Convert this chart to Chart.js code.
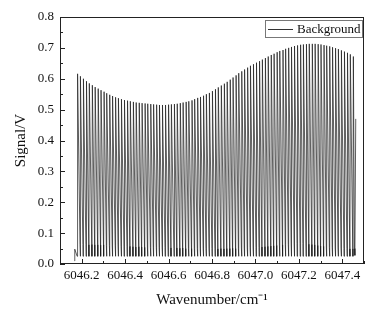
<!DOCTYPE html>
<html>
<head>
<meta charset="utf-8">
<script src="https://cdn.jsdelivr.net/npm/chart.js@4.4.1/dist/chart.umd.min.js"></script>
<style>
  html, body { margin: 0; padding: 0; background: #fff; }
  canvas { display: block; }
</style>
</head>
<body>
<canvas id="chart" width="385" height="312"></canvas>
<script>
// peak positions (cm^-1) and peak heights (V)
var peakWn = [
    6046.181, 6046.195, 6046.208, 6046.222, 6046.235, 6046.249, 6046.262, 6046.276, 6046.289, 6046.303,
    6046.316, 6046.330, 6046.343, 6046.357, 6046.370, 6046.384, 6046.397, 6046.411, 6046.424, 6046.438,
    6046.451, 6046.465, 6046.478, 6046.492, 6046.505, 6046.519, 6046.532, 6046.546, 6046.559, 6046.573,
    6046.586, 6046.600, 6046.613, 6046.627, 6046.640, 6046.654, 6046.667, 6046.681, 6046.694, 6046.708,
    6046.721, 6046.735, 6046.748, 6046.762, 6046.775, 6046.789, 6046.802, 6046.816, 6046.829, 6046.843,
    6046.857, 6046.870, 6046.884, 6046.897, 6046.911, 6046.924, 6046.938, 6046.951, 6046.965, 6046.978,
    6046.992, 6047.005, 6047.019, 6047.032, 6047.046, 6047.059, 6047.073, 6047.086, 6047.100, 6047.113,
    6047.127, 6047.140, 6047.154, 6047.167, 6047.181, 6047.194, 6047.208, 6047.221, 6047.235, 6047.248,
    6047.262, 6047.275, 6047.289, 6047.302, 6047.316, 6047.329, 6047.343, 6047.356, 6047.370, 6047.383,
    6047.397, 6047.410, 6047.424, 6047.437, 6047.451
];
var peakV = [
    0.616, 0.608, 0.600, 0.592, 0.585, 0.579, 0.573, 0.568, 0.563, 0.558,
    0.553, 0.548, 0.544, 0.540, 0.537, 0.534, 0.531, 0.529, 0.527, 0.525,
    0.523, 0.522, 0.521, 0.520, 0.519, 0.518, 0.517, 0.516, 0.515, 0.515,
    0.515, 0.516, 0.517, 0.518, 0.519, 0.521, 0.523, 0.525, 0.527, 0.530,
    0.534, 0.538, 0.541, 0.545, 0.550, 0.554, 0.560, 0.566, 0.572, 0.578,
    0.584, 0.590, 0.597, 0.604, 0.611, 0.618, 0.624, 0.630, 0.636, 0.642,
    0.647, 0.652, 0.657, 0.662, 0.667, 0.672, 0.677, 0.681, 0.686, 0.690,
    0.693, 0.697, 0.700, 0.703, 0.706, 0.708, 0.710, 0.711, 0.712, 0.713,
    0.713, 0.713, 0.712, 0.711, 0.709, 0.707, 0.705, 0.702, 0.699, 0.696,
    0.692, 0.688, 0.684, 0.679, 0.672
];
// level where each fringe's slow fall ends, before the dip at the bottom
var troughHigh = [
    0.064, 0.063, 0.064, 0.062, 0.063, 0.062, 0.062, 0.061, 0.062, 0.060,
    0.060, 0.058, 0.059, 0.058, 0.057, 0.058, 0.056, 0.057, 0.056, 0.055,
    0.056, 0.055, 0.054, 0.055, 0.054, 0.053, 0.054, 0.053, 0.052, 0.053,
    0.052, 0.052, 0.051, 0.052, 0.051, 0.052, 0.050, 0.051, 0.050, 0.051,
    0.050, 0.050, 0.049, 0.050, 0.049, 0.050, 0.049, 0.049, 0.050, 0.049,
    0.050, 0.050, 0.051, 0.050, 0.051, 0.052, 0.051, 0.052, 0.053, 0.052,
    0.053, 0.054, 0.055, 0.056, 0.057, 0.058, 0.059, 0.060, 0.061, 0.062,
    0.063, 0.064, 0.065, 0.065, 0.066, 0.066, 0.066, 0.065, 0.064, 0.063,
    0.062, 0.060, 0.058, 0.057, 0.055, 0.054, 0.053, 0.052, 0.052, 0.051,
    0.050, 0.050, 0.049, 0.049
];
var troughLow = 0.025;
// first and last samples of the scan
var startWn = [6046.167, 6046.168, 6046.179];
var startV = [0.010, 0.048, 0.025];
var endWn = [6047.456, 6047.458, 6047.462];
var endV = [0.050, 0.028, 0.470];

var xTicks = [6046.2, 6046.4, 6046.6, 6046.8, 6047.0, 6047.2, 6047.4];
var xMinor = [6046.1, 6046.3, 6046.5, 6046.7, 6046.9, 6047.1, 6047.3, 6047.5];
var yTicks = [0, 0.1, 0.2, 0.3, 0.4, 0.5, 0.6, 0.7, 0.8];
var yMinor = [0.05, 0.15, 0.25, 0.35, 0.45, 0.55, 0.65, 0.75];

var serif = '"Liberation Serif", "Times New Roman", serif';
var ink = '#111';

function buildData() {
    var data = [];
    for (var i = 0; i < startWn.length; i++) {
        data.push({x: startWn[i], y: startV[i]});
    }
    for (var i = 0; i < peakWn.length; i++) {
        data.push({x: peakWn[i], y: peakV[i]});
        if (i < peakWn.length - 1) {
            // slow fall, short dip, then a steep rise into the next fringe
            var gap = peakWn[i + 1] - peakWn[i];
            data.push({x: peakWn[i] + gap * 0.8, y: troughHigh[i]});
            data.push({x: peakWn[i] + gap * 0.86, y: troughLow});
        }
    }
    for (var i = 0; i < endWn.length; i++) {
        data.push({x: endWn[i], y: endV[i]});
    }
    return data;
}

// box frame, inward ticks and the boxed legend
var frameTicks = {
    id: 'frameTicks',
    afterDraw: function (chart) {
        var ctx = chart.ctx;
        var a = chart.chartArea;
        var x = chart.scales.x, y = chart.scales.y;
        ctx.save();
        ctx.strokeStyle = '#222';
        ctx.lineWidth = 1;
        ctx.strokeRect(a.left + 0.5, a.top + 0.5, a.right - a.left - 1, a.bottom - a.top - 1);

        ctx.beginPath();
        xTicks.forEach(function (v) {
            var px = Math.round(x.getPixelForValue(v)) + 0.5;
            ctx.moveTo(px, a.bottom); ctx.lineTo(px, a.bottom - 5);
        });
        xMinor.forEach(function (v) {
            var px = Math.round(x.getPixelForValue(v)) + 0.5;
            ctx.moveTo(px, a.bottom); ctx.lineTo(px, a.bottom - 3);
        });
        yTicks.forEach(function (v) {
            var py = Math.round(y.getPixelForValue(v)) + 0.5;
            ctx.moveTo(a.left, py); ctx.lineTo(a.left + 5, py);
        });
        yMinor.forEach(function (v) {
            var py = Math.round(y.getPixelForValue(v)) + 0.5;
            ctx.moveTo(a.left, py); ctx.lineTo(a.left + 3, py);
        });
        ctx.stroke();

        // legend
        var lx = a.right - 99, ly = a.top + 3;
        ctx.strokeStyle = '#777';
        ctx.strokeRect(lx + 0.5, ly + 0.5, 97, 17);
        ctx.strokeStyle = '#333';
        ctx.beginPath();
        ctx.moveTo(lx + 3, ly + 9.5); ctx.lineTo(lx + 28, ly + 9.5);
        ctx.stroke();
        ctx.fillStyle = ink;
        ctx.font = '13px ' + serif;
        ctx.textBaseline = 'middle';
        ctx.fillText(chart.data.datasets[0].label, lx + 32, ly + 10);
        ctx.restore();
    }
};

var ctx = document.getElementById('chart').getContext('2d');
var chart = new Chart(ctx, {
    type: 'line',
    data: {
        datasets: [{
            label: 'Background',
            data: buildData(),
            borderColor: '#1a1a1a',
            borderWidth: 0.7,
            pointRadius: 0,
            tension: 0,
            fill: false
        }]
    },
    options: {
        responsive: false,
        animation: false,
        events: [],
        layout: {padding: {top: 17, right: 21, left: 0, bottom: 0}},
        plugins: {
            legend: {display: false},
            tooltip: {enabled: false}
        },
        scales: {
            x: {
                type: 'linear',
                min: 6046.1,
                max: 6047.5,
                grid: {display: false, drawTicks: false},
                border: {display: false},
                afterBuildTicks: function (s) {
                    s.ticks = xTicks.map(function (v) { return {value: v}; });
                },
                afterFit: function (s) { s.height = 48; },
                ticks: {
                    color: ink,
                    padding: 4,
                    autoSkip: false,
                    maxRotation: 0,
                    font: {family: serif, size: 13},
                    callback: function (v) { return v.toFixed(1); }
                },
                title: {
                    display: true,
                    text: 'Wavenumber/cm⁻¹',
                    color: ink,
                    font: {family: serif, size: 15},
                    padding: {top: 0, bottom: 3}
                }
            },
            y: {
                min: 0,
                max: 0.8,
                grid: {display: false, drawTicks: false},
                border: {display: false},
                afterBuildTicks: function (s) {
                    s.ticks = yTicks.map(function (v) { return {value: v}; });
                },
                afterFit: function (s) { s.width = 60; },
                ticks: {
                    color: ink,
                    padding: 6,
                    font: {family: serif, size: 13},
                    callback: function (v) { return v.toFixed(1); }
                },
                title: {
                    display: true,
                    text: 'Signal/V',
                    color: ink,
                    font: {family: serif, size: 15},
                    padding: {top: 12, bottom: 0}
                }
            }
        }
    },
    plugins: [frameTicks]
});
</script>
</body>
</html>
